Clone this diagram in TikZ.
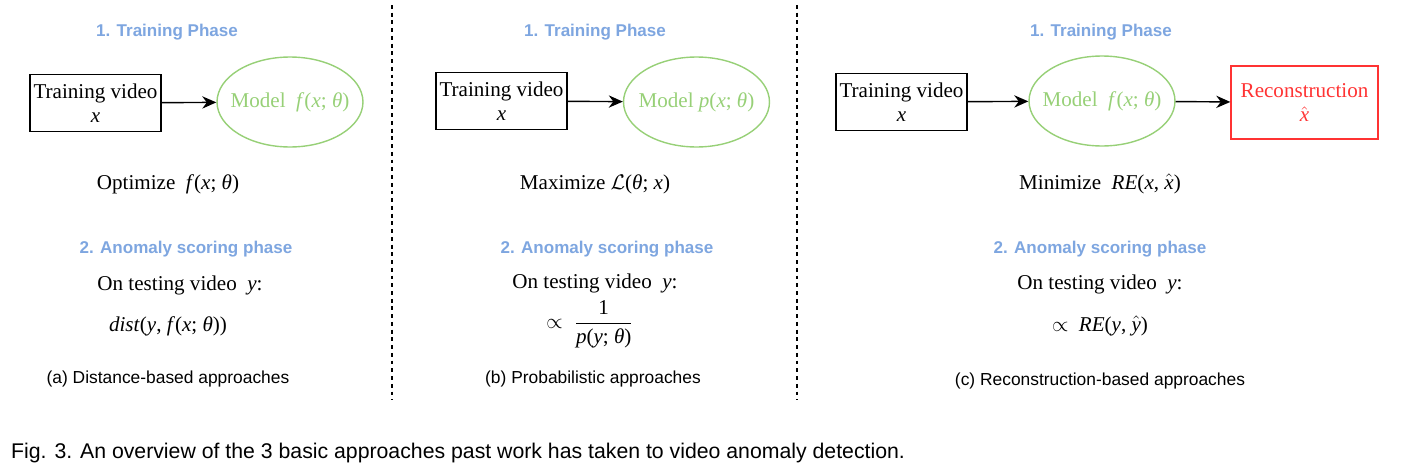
\documentclass[tikz,border=0pt]{standalone}
\usepackage{fontspec}
\setmainfont{Liberation Serif}
\setsansfont{Liberation Sans}
\usepackage{amsmath}
\usepackage{amssymb}
\usetikzlibrary{arrows.meta, positioning, shapes.geometric}
\definecolor{phaseblue}{RGB}{126, 166, 224}
\definecolor{modelgreen}{RGB}{151, 208, 119}
\definecolor{recred}{RGB}{255, 51, 51}
\newcommand{\mvar}[1]{\textit{#1}}

\begin{document}
\begin{tikzpicture}[x=0.02cm, y=-0.02cm,
        vidbox/.style={draw, line width=0.8pt, minimum width=2.62cm, minimum height=1.14cm, inner sep=0pt, align=center, font=\fontsize{12}{14}\selectfont},
        model/.style={draw=modelgreen, ellipse, line width=0.8pt, minimum width=2.92cm, minimum height=1.8cm, inner xsep=-7pt, inner ysep=0pt, text=modelgreen, font=\fontsize{12}{14}\selectfont},
        recbox/.style={draw=recred, line width=0.8pt, minimum width=2.94cm, minimum height=1.46cm, inner sep=0pt, align=center, text=recred, font=\fontsize{12}{14}\selectfont},
        phase/.style={text=phaseblue, font=\sffamily\bfseries\fontsize{9.7}{11}\selectfont},
        txt/.style={font=\fontsize{12}{14}\selectfont},
        sub/.style={font=\sffamily\fontsize{9.9}{11}\selectfont},
        arr/.style={-{Stealth[length=8pt, width=7pt]}, line width=0.8pt},
        sep/.style={dash pattern=on 2.2pt off 2.2pt, line width=0.7pt},
    ]
        \useasboundingbox (0,0) rectangle (1404,470);

        % (a) distance-based
        \node[phase] (tp1) at (167, 32) {1. Training Phase};
        \node[vidbox] (v1) at (95.5, 103) {Training video\\ \mvar{x}};
        \node[model] (m1) at (290, 102) {Model \ \mvar{f}(\mvar{x}; \mvar{θ})};
        \draw[arr] (v1) -- (m1);
        \node[txt] (o1) at (168, 184) {Optimize \ \mvar{f}(\mvar{x}; \mvar{θ})};
        \node[phase] (sp1) at (186, 249) {2. Anomaly scoring phase};
        \node[txt] (t1) at (180, 285) {On testing video \ \mvar{y}:};
        \node[txt] (s1) at (168, 326) {\mvar{dist}(\mvar{y}, \mvar{f}(\mvar{x}; \mvar{θ}))};
        \node[sub] (c1) at (168, 379) {(a) Distance-based approaches};

        \draw[sep] (392, 5) -- (392, 400);

        % (b) probabilistic
        \node[phase] (tp2) at (595, 32) {1. Training Phase};
        \node[vidbox] (v2) at (501.5, 101) {Training video\\ \mvar{x}};
        \node[model] (m2) at (696.5, 102) {Model \mvar{p}(\mvar{x}; \mvar{θ})};
        \draw[arr] (v2) -- (m2);
        \node[txt] (o2) at (595, 184) {Maximize $\mathcal{L}$(\mvar{θ}; \mvar{x})};
        \node[phase] (sp2) at (607, 249) {2. Anomaly scoring phase};
        \node[txt] (t2) at (595, 283) {On testing video \ \mvar{y}:};
        \node[txt] (s2) at (590, 324) {$\propto\ \dfrac{\mbox{1}}{\mbox{\mvar{p}(\mvar{y}; \mvar{θ})}}$};
        \node[sub] (c2) at (593, 379) {(b) Probabilistic approaches};

        \draw[sep] (797, 5) -- (797, 400);

        % (c) reconstruction-based
        \node[phase] (tp3) at (1101, 32) {1. Training Phase};
        \node[vidbox] (v3) at (901.5, 102) {Training video\\ \mvar{x}};
        \node[model] (m3) at (1102, 101) {Model \ \mvar{f}(\mvar{x}; \mvar{θ})};
        \node[recbox] (r3) at (1304.5, 102.5) {Reconstruction\\ $\hat{\mbox{\mvar{x}}}$};
        \draw[arr] (v3) -- (m3);
        \draw[arr] (m3) -- (r3);
        \node[txt] (o3) at (1100, 184) {Minimize \ \mvar{RE}(\mvar{x}, $\hat{\mbox{\mvar{x}}}$)};
        \node[phase] (sp3) at (1100, 249) {2. Anomaly scoring phase};
        \node[txt] (t3) at (1100, 284) {On testing video \ \mvar{y}:};
        \node[txt] (s3) at (1100, 326) {$\propto$ \ \mvar{RE}(\mvar{y}, $\hat{\mbox{\mvar{y}}}$)};
        \node[sub] (c3) at (1100, 381) {(c) Reconstruction-based approaches};

        \node[anchor=west, font=\sffamily\fontsize{12.1}{13}\selectfont] (fig) at (5, 453) {Fig. 3. An overview of the 3 basic approaches past work has taken to video anomaly detection.};
    \end{tikzpicture}
\end{document}
